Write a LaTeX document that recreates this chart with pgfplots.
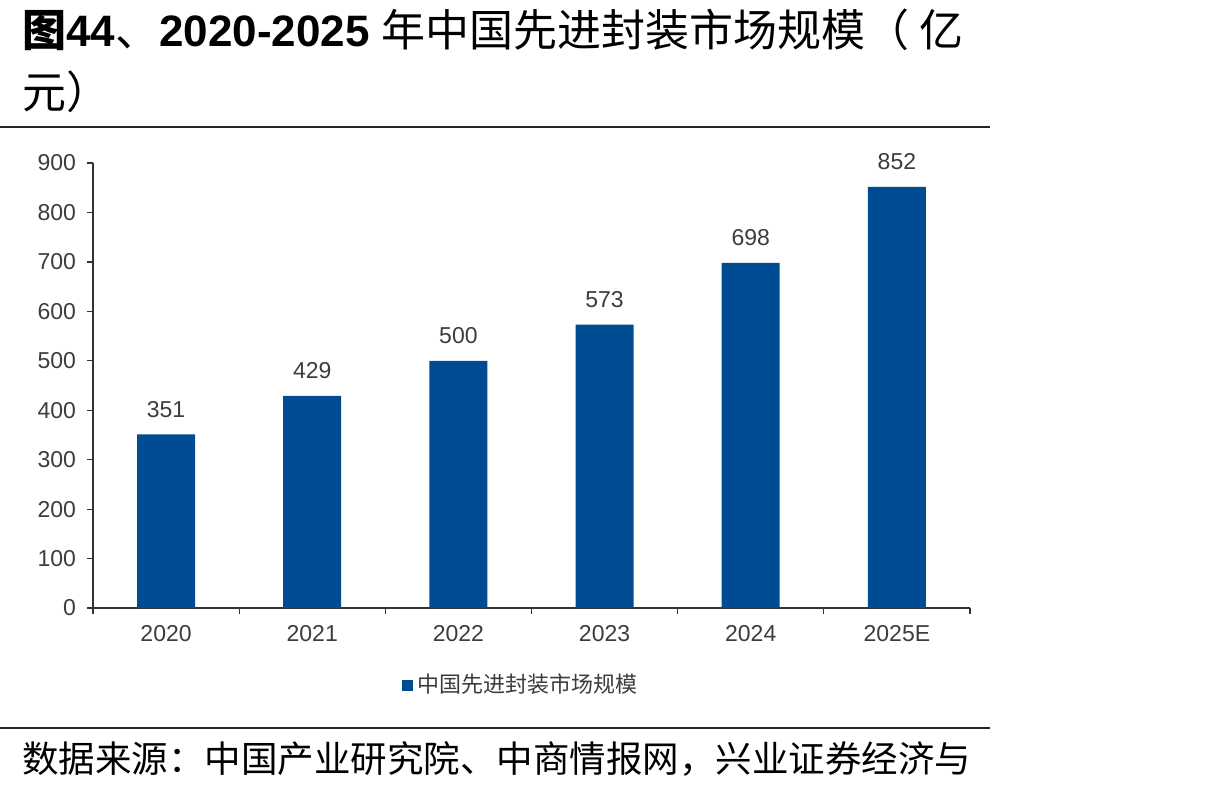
\documentclass[border=0pt]{standalone}
\usepackage{pgfplots}
\pgfplotsset{compat=1.18}
\usepackage{fontspec}
\setmainfont{Liberation Sans}
\newfontfamily\cjk{Noto Sans CJK SC}
\definecolor{barblue}{RGB}{0,76,147}
\definecolor{txtgray}{RGB}{60,60,60}
\begin{document}
\begin{tikzpicture}
\useasboundingbox (0,0) rectangle (602.5pt,-394.5pt);
\node[anchor=base west, inner sep=0] at (11pt,-23pt) {\fontsize{22pt}{26pt}\selectfont{\cjk\bfseries 图}\textbf{44}{\cjk 、}\textbf{2020-2025}\ {\cjk 年中国先进封装市场规模（ 亿}};
\node[anchor=base west, inner sep=0] at (11pt,-54pt) {\fontsize{22pt}{26pt}\selectfont{\cjk 元）}};
\draw[line width=1pt, black!85] (0pt,-63.5pt) -- (495pt,-63.5pt);
\draw[line width=1pt, black!85] (0pt,-364pt) -- (495pt,-364pt);
\node[anchor=base west, inner sep=0] at (11pt,-386pt) {\fontsize{18.25pt}{22pt}\selectfont\cjk 数据来源：中国产业研究院、中商情报网，兴业证券经济与};
\begin{axis}[
  at={(46.5pt,-304pt)}, anchor=south west, scale only axis,
  width=438.5pt, height=222.5pt,
  ybar, bar width=29pt,
  xmin=-0.5, xmax=5.5, ymin=0, ymax=900,
  ytick={0,100,...,900},
  xtick={0,...,5},
  xticklabels={2020,2021,2022,2023,2024,2025E},
  minor xtick={-0.5,0.5,...,5.5},
  axis x line*=bottom, axis y line*=left,
  axis line style={line width=0.8pt, black!80},
  tick align=outside, major tick length=3pt, minor tick length=3pt,
  every major x tick/.append style={draw=none},
  tick style={line width=0.6pt, black!80},
  /pgf/number format/assume math mode=true,
  tick label style={font=\fontsize{11.5pt}{13pt}\selectfont, color=txtgray},
  xticklabel style={yshift=-2pt},
  yticklabel style={xshift=-2pt},
  nodes near coords,
  nodes near coords style={font=\fontsize{11.5pt}{13pt}\selectfont, color=txtgray, yshift=5pt},
  legend style={at={(0.489,-0.173)}, anchor=center, draw=none, font=\cjk\fontsize{11pt}{13pt}\selectfont, text=txtgray},
  legend image code/.code={\fill[barblue] (0pt,-2.75pt) rectangle (5.5pt,2.75pt);},
]
\addplot[fill=barblue, draw=none] coordinates {(0,351) (1,429) (2,500) (3,573) (4,698) (5,852)};
\legend{中国先进封装市场规模}
\end{axis}
\end{tikzpicture}
\end{document}
